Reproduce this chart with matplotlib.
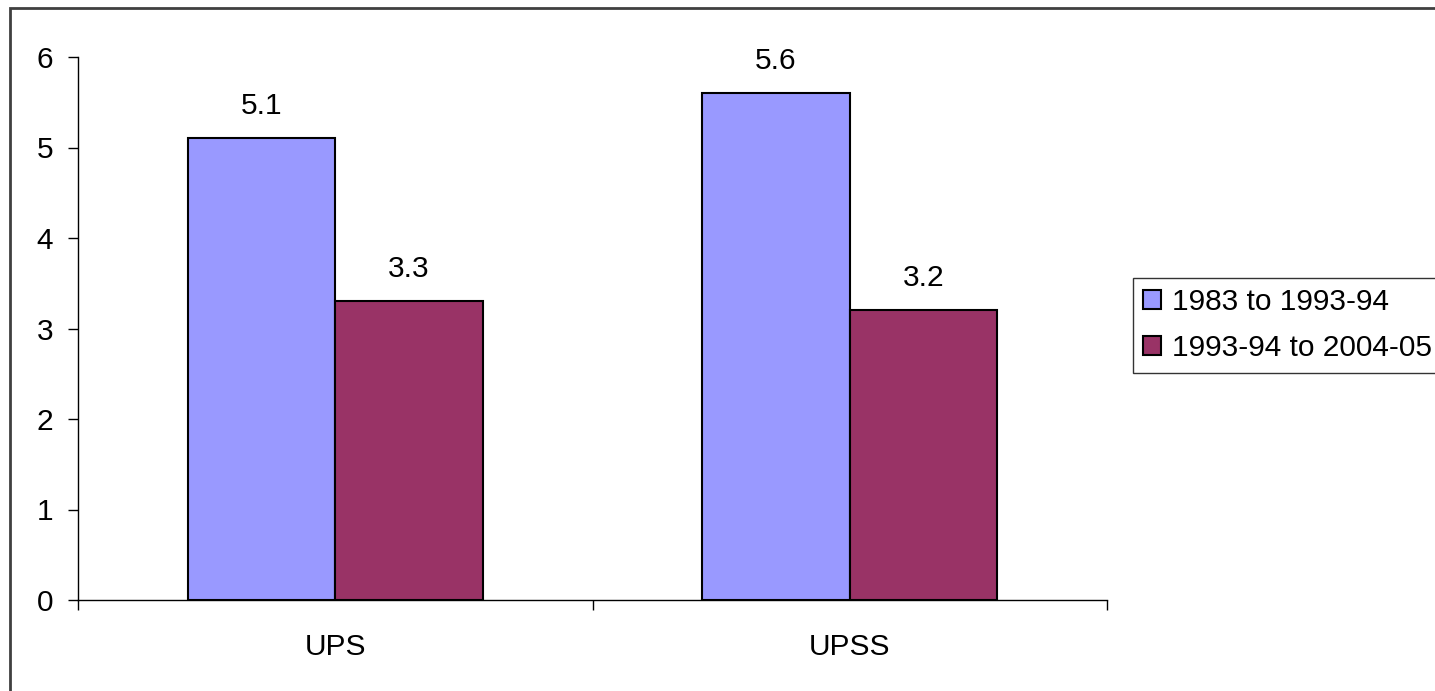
import numpy as np
import matplotlib
matplotlib.use("Agg")
import matplotlib.pyplot as plt
from matplotlib.patches import Rectangle

categories = ["UPS", "UPSS"]
series_names = ["1983 to 1993-94", "1993-94 to 2004-05"]
values_a = [5.1, 5.6]
values_b = [3.3, 3.2]
colors = ["#9999FF", "#993366"]

plt.rcParams['font.family'] = ['Liberation Sans', 'DejaVu Sans']
plt.rcParams['font.size'] = 21.5

W, H = 1435, 691
fig = plt.figure(figsize=(W / 100, H / 100), dpi=100)
ax = fig.add_axes([78 / W, 1 - 600 / H, (1107 - 78) / W, (600 - 57) / H])

x = np.arange(len(categories))
bw = 0.287
bars_a = ax.bar(x - bw / 2, values_a, bw, color=colors[0], edgecolor="black",
                linewidth=1.5, label=series_names[0])
bars_b = ax.bar(x + bw / 2, values_b, bw, color=colors[1], edgecolor="black",
                linewidth=1.5, label=series_names[1])

for bars, vals in [(bars_a, values_a), (bars_b, values_b)]:
    for b, v in zip(bars, vals):
        ax.annotate(f"{v:.1f}", (b.get_x() + b.get_width() / 2, v),
                    xytext=(0, 13), textcoords="offset points",
                    ha="center", va="bottom")

ax.set_xlim(-0.5, 1.5)
ax.set_ylim(0, 6)
ax.set_yticks(range(7))
ax.set_xticks([-0.5, 0.5, 1.5])
ax.set_xticklabels([])
ax.set_xticks(x, minor=True)
ax.set_xticklabels(categories, minor=True)
ax.tick_params(axis="x", which="minor", length=0, pad=24)
ax.tick_params(axis="x", which="major", length=7, width=1, direction="out")
ax.tick_params(axis="y", length=7, width=1, direction="out", pad=11)

for s in ["top", "right"]:
    ax.spines[s].set_visible(False)
ax.spines["left"].set_linewidth(1)
ax.spines["bottom"].set_linewidth(1)

leg = ax.legend(loc="upper left", bbox_to_anchor=(1133 / W, 1 - 278 / H),
                bbox_transform=fig.transFigure, frameon=True, fancybox=False,
                borderpad=0.35, handlelength=0.6, handleheight=0.6,
                handletextpad=0.35, labelspacing=0.6, borderaxespad=0)
leg.get_frame().set_edgecolor("black")
leg.get_frame().set_linewidth(1)

fig.patches.append(Rectangle((10 / W, -0.1), 1.2, 1 - 8 / H + 0.1,
                             transform=fig.transFigure, fill=False,
                             edgecolor="#404040", linewidth=2))

fig.savefig("out.png", dpi=100)
